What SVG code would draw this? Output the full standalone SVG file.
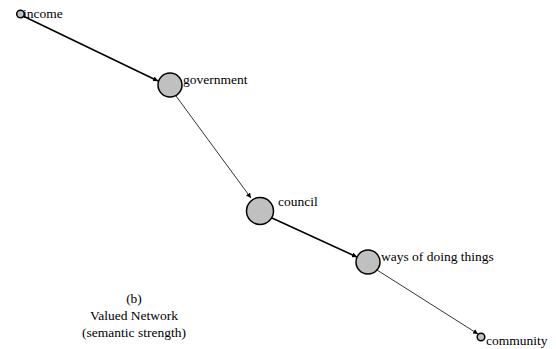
<svg xmlns="http://www.w3.org/2000/svg" width="556" height="349" viewBox="0 0 556 349">
<style>
text{font-family:"Liberation Serif","Times New Roman",serif;font-size:13.5px;fill:#000}
.n{fill:#c0c0c0;stroke:#000;stroke-width:1.5}
.thick{stroke:#000;stroke-width:1.6;fill:none}
.thin{stroke:#000;stroke-width:0.8;fill:none}
.cap{text-anchor:middle}
</style>
<defs>
<marker id="ah" viewBox="0 0 10 10" refX="10" refY="5" markerWidth="5" markerHeight="5" markerUnits="userSpaceOnUse" orient="auto"><path d="M0,0 L10,5 L0,10 z" fill="#000"/></marker>
</defs>
<rect width="556" height="349" fill="#fff"/>
<g id="connectors">
<line class="thick" x1="23" y1="16" x2="158" y2="81" marker-end="url(#ah)"/>
<line class="thin" x1="176" y1="96" x2="251" y2="198" marker-end="url(#ah)"/>
<line class="thick" x1="272" y1="218" x2="357" y2="257" marker-end="url(#ah)"/>
<line class="thin" x1="377" y1="270" x2="478" y2="334" marker-end="url(#ah)"/>
</g>
<g id="income"><circle class="n" cx="20.5" cy="14" r="3.8"/><text x="23" y="18">income</text></g>
<g id="government"><circle class="n" cx="170" cy="85" r="12"/><text x="183" y="84">government</text></g>
<g id="council"><circle class="n" cx="260" cy="211" r="13.5"/><text x="278" y="206">council</text></g>
<g id="ways"><circle class="n" cx="368" cy="262" r="12"/><text x="381" y="261">ways of doing things</text></g>
<g id="community"><circle class="n" cx="481" cy="337" r="3.8"/><text x="486" y="345">community</text></g>
<g id="caption"><text class="cap" x="134" y="303">(b)</text><text class="cap" x="134" y="320">Valued Network</text><text class="cap" x="134" y="337">(semantic strength)</text></g>
</svg>
